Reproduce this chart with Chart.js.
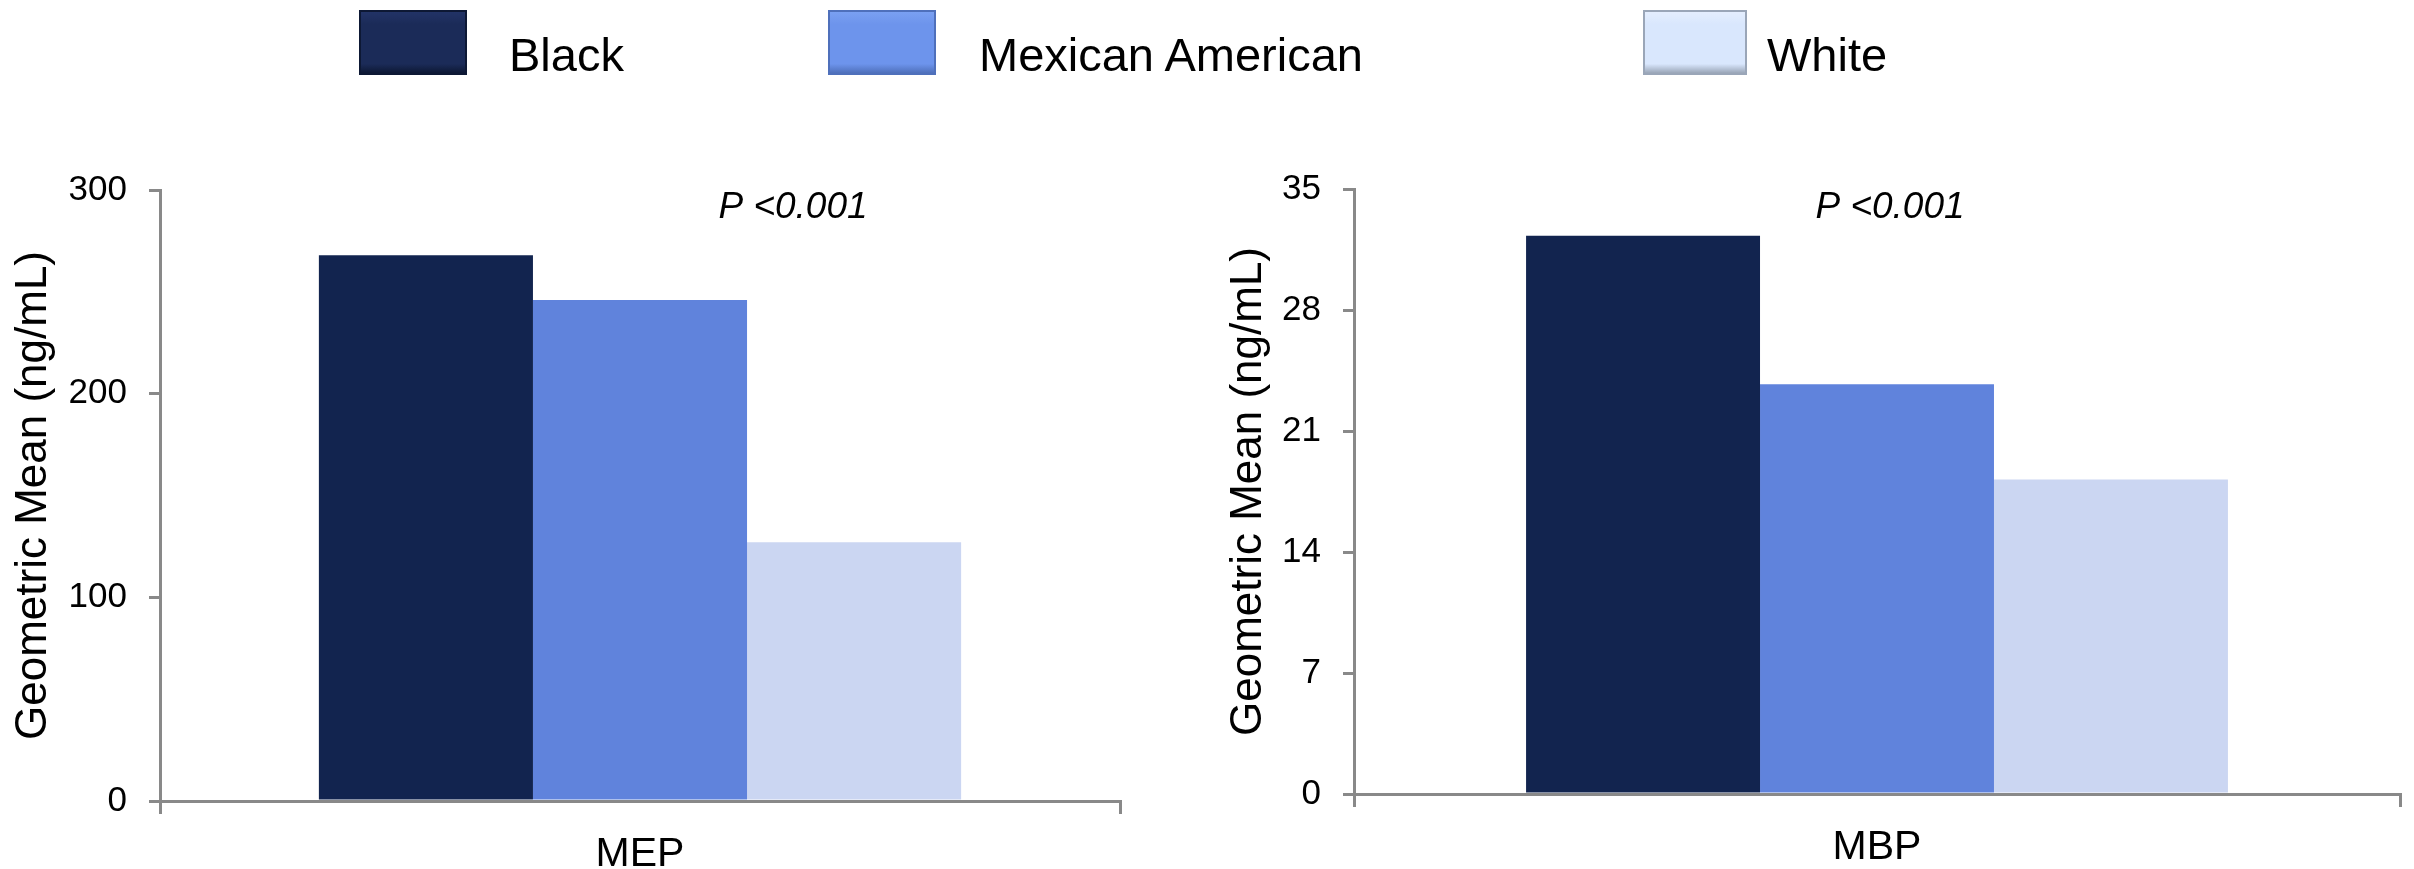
<!DOCTYPE html>
<html>
<head>
<meta charset="utf-8">
<title>Geometric mean by race/ethnicity</title>
<script src="https://cdn.jsdelivr.net/npm/chart.js@4.4.1/dist/chart.umd.min.js"></script>
<style>
    body { margin: 0; background: #fff; font-family: "Liberation Sans", Arial, sans-serif; }
    #page { position: relative; width: 2414px; height: 869px; overflow: hidden; }
    canvas { position: absolute; top: 0; }
    #chartMEP { left: 0; }
    #chartMBP { left: 1180px; }
    .key { position: absolute; top: 10px; height: 65px; box-sizing: border-box; border-width: 2px; border-style: solid; }
    .keyText { position: absolute; top: 31px; font-size: 47px; line-height: 47px; color: #000; white-space: nowrap; }
</style>
</head>
<body>
<div id="page">
    <canvas id="chartMEP" width="1180" height="869"></canvas>
    <canvas id="chartMBP" width="1234" height="869"></canvas>
    <div id="legend"></div>
</div>
<script>
// groups and values
const groups = ['Black', 'Mexican American', 'White'];
const mepValues = [268, 246, 127];
const mbpValues = [32.3, 23.7, 18.2];
const mepTicks = { max: 300, step: 100 };
const mbpTicks = { max: 35, step: 7 };
const yTitle = 'Geometric Mean (ng/mL)';
const pText = 'P <0.001';

const barColors = ['#12244f', '#6083dc', '#cbd6f2'];
const keyColors = [
    { top: '#223366', mid: '#1b2b58', edge: '#0d1834' },
    { top: '#7aa0f2', mid: '#6d94ec', edge: '#4f70bb' },
    { top: '#e4eefe', mid: '#d9e7fd', edge: '#9aa6b8' }
];
// legend key boxes and label left edges (px)
const keyPos = [[359, 108, 509], [828, 108, 979], [1643, 104, 1767]];

const legend = document.getElementById('legend');
groups.forEach(function(name, i) {
    const box = document.createElement('div');
    box.className = 'key';
    box.style.left = keyPos[i][0] + 'px';
    box.style.width = keyPos[i][1] + 'px';
    box.style.background = 'linear-gradient(' + keyColors[i].top + ', ' + keyColors[i].mid + ' 20%, ' + keyColors[i].mid + ' 85%, ' + keyColors[i].edge + ')';
    box.style.borderColor = keyColors[i].edge;
    legend.appendChild(box);
    const label = document.createElement('div');
    label.className = 'keyText';
    label.style.left = keyPos[i][2] + 'px';
    label.textContent = name;
    legend.appendChild(label);
});

// italic p-value note above the bars
const pValueNote = {
    id: 'pValueNote',
    afterDraw(chart, args, opts) {
        const ctx = chart.ctx;
        ctx.save();
        ctx.font = 'italic 37px "Liberation Sans", Arial, sans-serif';
        ctx.fillStyle = '#000';
        ctx.textAlign = 'center';
        ctx.textBaseline = 'alphabetic';
        ctx.fillText(opts.text, opts.x, opts.y);
        ctx.restore();
    }
};

function makeChart(id, category, values, ticks, box) {
    const axisGray = '#898989';
    return new Chart(document.getElementById(id), {
        type: 'bar',
        data: {
            labels: [category],
            datasets: groups.map(function(g, i) {
                return {
                    label: g,
                    data: [values[i]],
                    backgroundColor: barColors[i],
                    borderWidth: 0,
                    categoryPercentage: box.catPct,
                    barPercentage: 1.0
                };
            })
        },
        plugins: [pValueNote],
        options: {
            responsive: false,
            animation: false,
            devicePixelRatio: 1,
            layout: { padding: { left: 0, right: box.padRight, top: box.padTop, bottom: 0 } },
            plugins: {
                legend: { display: false },
                tooltip: { enabled: false },
                pValueNote: { text: pText, x: box.pX, y: 218 }
            },
            scales: {
                x: {
                    afterFit: function(scale) { scale.height = box.xHeight; },
                    grid: { display: true, drawOnChartArea: false, drawTicks: true, tickLength: 13, color: axisGray, lineWidth: 3, offset: true },
                    border: { display: true, color: axisGray, width: 3 },
                    ticks: { color: '#000', padding: 16, font: { size: 41, family: '"Liberation Sans", Arial, sans-serif' } }
                },
                y: {
                    min: 0,
                    max: ticks.max,
                    afterFit: function(scale) { scale.width = box.yWidth; },
                    grid: { display: true, drawOnChartArea: false, drawTicks: true, tickLength: 11, color: axisGray, lineWidth: 3 },
                    border: { display: true, color: axisGray, width: 3 },
                    ticks: { stepSize: ticks.step, color: '#000', padding: 22, font: { size: 35, family: '"Liberation Sans", Arial, sans-serif' } },
                    title: {
                        display: true,
                        text: yTitle,
                        color: '#000',
                        padding: { top: box.titlePad, bottom: 0 },
                        font: { size: 44, family: '"Liberation Sans", Arial, sans-serif' }
                    }
                }
            }
        }
    });
}

makeChart('chartMEP', 'MEP', mepValues, mepTicks,
    { padRight: 60, padTop: 190, xHeight: 68, yWidth: 160, catPct: 0.669, titlePad: 7, pX: 793 });
makeChart('chartMBP', 'MBP', mbpValues, mbpTicks,
    { padRight: 14, padTop: 189, xHeight: 75, yWidth: 174, catPct: 0.671, titlePad: 42, pX: 710 });
</script>
</body>
</html>
